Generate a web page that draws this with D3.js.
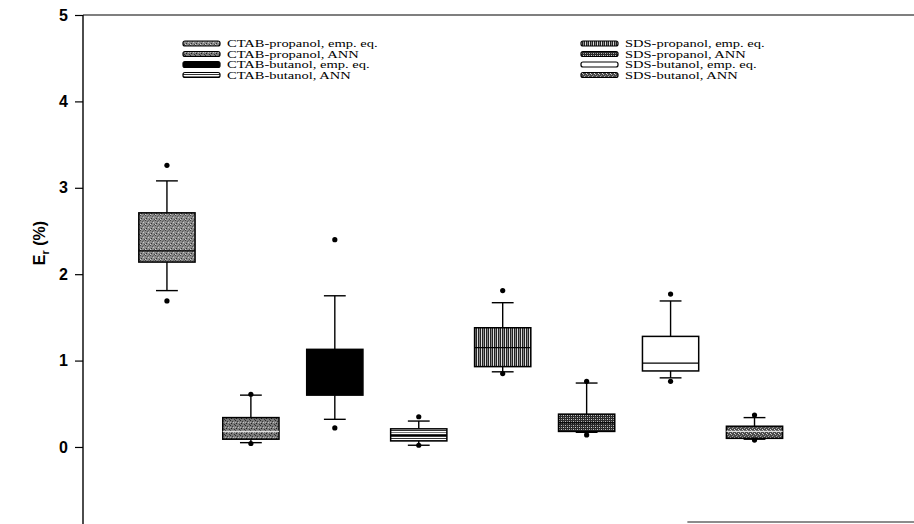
<!DOCTYPE html>
<html><head><meta charset="utf-8">
<script src="https://cdn.jsdelivr.net/npm/d3@7"></script>
<style>html,body{margin:0;padding:0;background:#fff;}svg{display:block;}</style>
</head><body>
<svg id="chart" width="914" height="524"></svg>
<script>
const categories = ["CTAB-propanol, emp. eq.","CTAB-propanol, ANN","CTAB-butanol, emp. eq.","CTAB-butanol, ANN",
                    "SDS-propanol, emp. eq.","SDS-propanol, ANN","SDS-butanol, emp. eq.","SDS-butanol, ANN"];
const positions   = [1,2,3,4,5,6,7,8];
const q1          = [2.14,0.09,0.60,0.07,0.93,0.18,0.88,0.10];
const median      = [2.27,0.18,0.67,0.13,1.15,0.28,0.97,0.18];
const q3          = [2.71,0.34,1.13,0.21,1.38,0.38,1.28,0.24];
const whiskerLow  = [1.81,0.05,0.32,0.02,0.87,0.17,0.80,0.09];
const whiskerHigh = [3.08,0.60,1.75,0.30,1.67,0.74,1.69,0.34];
const outlierLow  = [1.69,0.04,0.22,0.02,0.85,0.14,0.76,0.08];
const outlierHigh = [3.26,0.61,2.40,0.35,1.81,0.76,1.77,0.37];
const yTicks      = [0,1,2,3,4,5];
const fills = ["url(#pA)","url(#pB)","#000","url(#pD)","url(#pE)","url(#pF)","#fff","url(#pH)"];

const svg = d3.select("#chart");
const x = d3.scaleLinear().domain([0, 9.9]).range([83, 914]);
const y = d3.scaleLinear().domain([-0.88, 5]).range([523, 15]);

// patterns
const defs = svg.append("defs");
function pat(id, bg, cells, size){
  const p = defs.append("pattern").attr("id", id).attr("patternUnits","userSpaceOnUse")
    .attr("width", size).attr("height", size);
  p.append("rect").attr("width", size).attr("height", size).attr("fill", bg);
  cells.forEach(c => p.append("rect").attr("x", c[0]).attr("y", c[1]).attr("width", c[2]).attr("height", c[3]).attr("fill", c[4]));
}
pat("pA", "#8a8a8a", [[0,0,1,1,"#444"],[2,1,1,1,"#555"],[1,3,1,1,"#333"],[3,2,1,1,"#c8c8c8"],[4,4,1,1,"#454545"],[0,4,1,1,"#d0d0d0"],[3,0,1,1,"#666"]], 5);
pat("pB", "#7a7a7a", [[0,0,1,1,"#2a2a2a"],[2,1,1,1,"#3a3a3a"],[1,3,1,1,"#222"],[3,2,1,1,"#c0c0c0"],[4,4,1,1,"#333"],[0,2,1,1,"#b0b0b0"]], 5);
pat("pD", "#fff", [[0,0,4,1,"#777"],[0,2,4,1,"#333"]], 4);
pat("pE", "#222", [[1,0,1,4,"#ddd"],[3,0,1,4,"#888"]], 4);
pat("pF", "#2a2a2a", [[1,1,1,1,"#bbb"],[3,1,1,1,"#888"],[1,3,1,1,"#999"],[3,3,1,1,"#ccc"]], 4);
pat("pH", "#4a4a4a", [[0,0,1,1,"#aaa"],[2,1,1,1,"#ddd"],[1,3,1,1,"#888"],[3,2,1,1,"#bbb"]], 4);

// axes / frame
const yAxis = d3.axisLeft(y).tickValues(yTicks).tickSize(8).tickPadding(7).tickFormat(d3.format("d"));
const gy = svg.append("g").attr("transform", "translate(83,0)").call(yAxis);
gy.select(".domain").remove();
gy.selectAll(".tick line").attr("stroke", "#000").attr("stroke-width", 1.2);
gy.selectAll(".tick text").attr("font-family", "Liberation Sans, Arial, sans-serif")
  .attr("font-size", 16).attr("font-weight", "bold").attr("fill", "#000");
svg.append("line").attr("x1", 83).attr("x2", 83).attr("y1", y(5)).attr("y2", 524)
  .attr("stroke", "#000").attr("stroke-width", 1.4);
svg.append("line").attr("x1", 83).attr("x2", 914).attr("y1", y(5)).attr("y2", y(5))
  .attr("stroke", "#000").attr("stroke-width", 1.2);
svg.append("line").attr("x1", x(7.2)).attr("x2", 914).attr("y1", 522).attr("y2", 522)
  .attr("stroke", "#666").attr("stroke-width", 1.4);

// y label
const yl = svg.append("text").attr("transform", "translate(45,243) rotate(-90)")
  .attr("text-anchor", "middle").attr("font-family", "Liberation Sans, Arial, sans-serif")
  .attr("font-size", 16).attr("font-weight", "bold").attr("fill", "#000");
yl.append("tspan").text("E");
yl.append("tspan").attr("font-size", 11).attr("dy", 4).text("r");
yl.append("tspan").attr("dy", -4).text(" (%)");

// boxes
const bw = 0.67, cw = 0.26;
const g = svg.append("g");
positions.forEach((p, i) => {
  const cx = x(p);
  const half = (x(bw) - x(0)) / 2, capHalf = (x(cw) - x(0)) / 2;
  g.append("line").attr("x1", cx).attr("x2", cx).attr("y1", y(whiskerHigh[i])).attr("y2", y(q3[i])).attr("stroke", "#000").attr("stroke-width", 1.4);
  g.append("line").attr("x1", cx).attr("x2", cx).attr("y1", y(q1[i])).attr("y2", y(whiskerLow[i])).attr("stroke", "#000").attr("stroke-width", 1.4);
  g.append("line").attr("x1", cx - capHalf).attr("x2", cx + capHalf).attr("y1", y(whiskerHigh[i])).attr("y2", y(whiskerHigh[i])).attr("stroke", "#000").attr("stroke-width", 1.4);
  g.append("line").attr("x1", cx - capHalf).attr("x2", cx + capHalf).attr("y1", y(whiskerLow[i])).attr("y2", y(whiskerLow[i])).attr("stroke", "#000").attr("stroke-width", 1.4);
  g.append("rect").attr("x", cx - half).attr("y", y(q3[i])).attr("width", 2 * half)
    .attr("height", y(q1[i]) - y(q3[i])).attr("fill", fills[i]).attr("stroke", "#000").attr("stroke-width", 1.5);
  g.append("line").attr("x1", cx - half).attr("x2", cx + half).attr("y1", y(median[i])).attr("y2", y(median[i]))
    .attr("stroke", i === 7 || i === 1 ? "#ddd" : "#000").attr("stroke-width", 1.3);
  [outlierLow[i], outlierHigh[i]].forEach(v => g.append("circle").attr("cx", cx).attr("cy", y(v)).attr("r", 2.6).attr("fill", "#000"));
});

// legend
const lg = svg.append("g");
const legX = [183, 581], textX = [227, 625], legY = [43.5, 54, 64.5, 75];
categories.forEach((c, i) => {
  const col = Math.floor(i / 4), row = i % 4;
  const h = i === 2 ? 6 : 5;
  lg.append("rect").attr("x", legX[col]).attr("y", legY[row] - h / 2).attr("width", 37).attr("height", h)
    .attr("rx", 2).attr("fill", fills[i]).attr("stroke", "#000").attr("stroke-width", 1.2);
  const t = lg.append("text").attr("x", textX[col]).attr("y", legY[row] + 3.5)
    .attr("font-family", "Liberation Serif, Times New Roman, serif").attr("font-size", 10.5).attr("fill", "#000").text(c);
  const w = t.node().getComputedTextLength();
  t.attr("textLength", w * 1.38).attr("lengthAdjust", "spacingAndGlyphs");
});
</script>
</body></html>
